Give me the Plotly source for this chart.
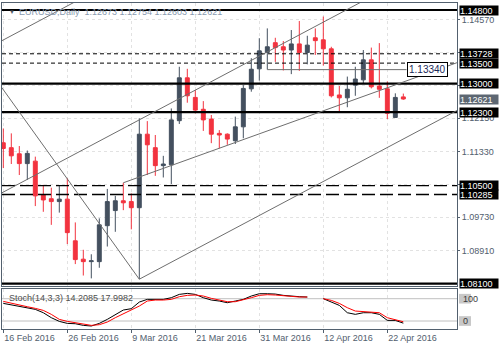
import plotly.graph_objects as go

# ---------------- data ----------------
dates = ["16 Feb 2016", "17 Feb 2016", "18 Feb 2016", "19 Feb 2016", "22 Feb 2016",
         "23 Feb 2016", "24 Feb 2016", "25 Feb 2016", "26 Feb 2016", "29 Feb 2016",
         "1 Mar 2016", "2 Mar 2016", "3 Mar 2016", "4 Mar 2016", "7 Mar 2016",
         "8 Mar 2016", "9 Mar 2016", "10 Mar 2016", "11 Mar 2016", "14 Mar 2016",
         "15 Mar 2016", "16 Mar 2016", "17 Mar 2016", "18 Mar 2016", "21 Mar 2016",
         "22 Mar 2016", "23 Mar 2016", "24 Mar 2016", "25 Mar 2016", "28 Mar 2016",
         "29 Mar 2016", "30 Mar 2016", "31 Mar 2016", "1 Apr 2016", "4 Apr 2016",
         "5 Apr 2016", "6 Apr 2016", "7 Apr 2016", "8 Apr 2016", "11 Apr 2016",
         "12 Apr 2016", "13 Apr 2016", "14 Apr 2016", "15 Apr 2016", "18 Apr 2016",
         "19 Apr 2016", "20 Apr 2016", "21 Apr 2016", "22 Apr 2016", "25 Apr 2016",
         "26 Apr 2016"]

opens = [1.1155, 1.1143, 1.1128, 1.1104, 1.1110, 1.1027, 1.1018, 1.1011, 1.1017, 1.0915,
         1.0870, 1.0864, 1.0864, 1.0952, 1.0989, 1.1013, 1.1011, 1.0996, 1.1176, 1.1143,
         1.1099, 1.1101, 1.1209, 1.1314, 1.1266, 1.1237, 1.1213, 1.1178, 1.1176, 1.1160,
         1.1194, 1.1287, 1.1336, 1.1376, 1.1400, 1.1390, 1.1382, 1.1397, 1.1376, 1.1412,
         1.1407, 1.1385, 1.1272, 1.1265, 1.1296, 1.1309, 1.1358, 1.1294, 1.1287, 1.1217,
         1.12673]
highs = [1.1190, 1.1178, 1.1147, 1.1136, 1.1121, 1.1052, 1.1045, 1.1049, 1.1068, 1.0960,
         1.0893, 1.0882, 1.0970, 1.1042, 1.1025, 1.1057, 1.1031, 1.1215, 1.1208, 1.1174,
         1.1123, 1.1239, 1.1341, 1.1336, 1.1284, 1.1257, 1.1223, 1.1186, 1.1178, 1.1219,
         1.1296, 1.1362, 1.1411, 1.1435, 1.1412, 1.1404, 1.1431, 1.1453, 1.1417, 1.1435,
         1.1464, 1.1390, 1.1294, 1.1317, 1.1341, 1.1382, 1.1388, 1.1399, 1.1305, 1.1276,
         1.12754]
lows = [1.1093, 1.1103, 1.1076, 1.1064, 1.1000, 1.0986, 1.0954, 1.0984, 1.0907, 1.0858,
        1.0830, 1.0823, 1.0849, 1.0901, 1.0937, 1.0990, 1.0943, 1.0821, 1.1076, 1.1074,
        1.1070, 1.1054, 1.1201, 1.1253, 1.1227, 1.1184, 1.1154, 1.1141, 1.1150, 1.1152,
        1.1166, 1.1280, 1.1307, 1.1334, 1.1353, 1.1332, 1.1323, 1.1331, 1.1347, 1.1370,
        1.1344, 1.1266, 1.1231, 1.1242, 1.1270, 1.1301, 1.1288, 1.1265, 1.1213, 1.1217,
        1.12603]
closes = [1.1141, 1.1123, 1.1104, 1.1129, 1.1025, 1.1015, 1.1011, 1.1017, 1.0935, 1.0869,
          1.0864, 1.0866, 1.0954, 1.1011, 1.1013, 1.1008, 1.0996, 1.1176, 1.1150, 1.1099,
          1.1103, 1.1211, 1.1314, 1.1270, 1.1235, 1.1211, 1.1176, 1.1174, 1.1164, 1.1194,
          1.1288, 1.1335, 1.1380, 1.1390, 1.1388, 1.1382, 1.1397, 1.1376, 1.1394, 1.1405,
          1.1385, 1.1270, 1.1265, 1.1286, 1.1311, 1.1358, 1.1292, 1.1286, 1.1227, 1.1266,
          1.12621]

stoch_main = [67.4, 63.8, 60.2, 56.7, 51.3, 42.3, 28.9, 19.0, 13.6, 12.7,
              8.3, 6.5, 13.6, 24.4, 37.9, 49.5, 53.1, 71.0, 78.2, 78.2,
              78.2, 82.7, 91.6, 94.3, 91.6, 82.7, 76.4, 73.7, 69.2, 73.7,
              78.2, 87.2, 93.4, 93.4, 92.5, 89.0, 86.3, 85.4, 84.5, None,
              80.0, 71.9, 62.0, 42.3, 37.9, 42.3, 42.3, 37.9, 21.7, 21.7,
              14.2085]
stoch_signal = [72.8, 67.4, 62.0, 58.4, 54.0, 48.6, 37.9, 24.4, 19.0, 15.4,
                12.7, 8.3, 10.1, 17.2, 28.9, 39.7, 49.5, 60.2, 73.7, 76.4,
                76.4, 78.2, 85.3, 89.0, 89.9, 87.2, 80.9, 75.5, 71.9, 71.9,
                76.4, 82.7, 89.0, 90.8, 89.9, 89.0, 86.3, 84.5, 84.5, None,
                80.0, 75.5, 67.4, 55.8, 46.8, 45.0, 44.1, 42.3, 28.9, 24.4,
                17.9982]
stoch_levels = [80, 20]
stoch_scale_labels = ["100", "0"]

price_ticks = [1.1457, 1.1376, 1.1295, 1.1215, 1.1133, 1.1053, 1.0973, 1.0891]
hidden_ticks = [1.1376, 1.1295, 1.1053]   # covered by level labels in the reference
date_tick_idx = [0, 8, 16, 24, 32, 40, 48]

# horizontal levels: (price, style)
h_levels = [(1.14800, "solid"), (1.13728, "short"), (1.13500, "short"), (1.13000, "solid"),
            (1.12300, "solid"), (1.10500, "long"), (1.10285, "long"), (1.08100, "solid")]
current_price = 1.12621
marked_level = 1.13340
marked_from, marked_to = 33, 50.4

# trend lines: ((bar index, price), (bar index, price))
trend_lines = [((-0.41, 1.14024), (12.0, 1.15316)),
               ((-0.41, 1.10300), (46.0, 1.15127)),
               ((-0.41, 1.12960), (17.0, 1.08210)),
               ((17.0, 1.08210), (57.5, 1.12422)),
               ((15.0, 1.10570), (57.5, 1.13566))]

title_text = "EURUSD,Daily  1.12673 1.12754 1.12603 1.12621"
stoch_text = "Stoch(14,3,3) 14.2085 17.9982"

# ---------------- figure ----------------
FONT = "Liberation Sans"
BULL = "#44505f"
BEAR = "#f2333f"
AXC = "#52606e"
GRID = "#e2e2e2"

x_idx = list(range(len(dates)))

fig = go.Figure()
fig.add_trace(go.Candlestick(
    x=x_idx, open=opens, high=highs, low=lows, close=closes,
    increasing=dict(line=dict(color=BULL, width=1), fillcolor=BULL),
    decreasing=dict(line=dict(color=BEAR, width=1), fillcolor=BEAR),
    whiskerwidth=0, showlegend=False, xaxis="x", yaxis="y"))

fig.add_trace(go.Scatter(x=x_idx, y=stoch_main, mode="lines", line=dict(color="#000000", width=1),
                         connectgaps=False, showlegend=False, xaxis="x2", yaxis="y2"))
fig.add_trace(go.Scatter(x=x_idx, y=stoch_signal, mode="lines", line=dict(color="#ff0000", width=1),
                         connectgaps=False, showlegend=False, xaxis="x2", yaxis="y2"))

shapes = []
annotations = []
style_map = {"solid": dict(width=2.2, dash="solid"),
             "short": dict(width=1, dash="4px,3px"),
             "long": dict(width=1.4, dash="13px,5px")}
for lvl, st in h_levels:
    shapes.append(dict(type="line", xref="x domain", yref="y", x0=0, x1=1, y0=lvl, y1=lvl,
                       line=dict(color="#000000", **style_map[st]), layer="above"))
    annotations.append(dict(xref="paper", yref="y", x=1.0044, y=lvl, xanchor="left", yanchor="middle",
                            text="%.5f" % lvl, showarrow=False, bgcolor="#000000",
                            font=dict(family=FONT, size=9, color="#ffffff"),
                            width=38, height=9, align="left", borderpad=0))

annotations.append(dict(xref="paper", yref="y", x=1.0044, y=current_price, xanchor="left", yanchor="middle",
                        text="%.5f" % current_price, showarrow=False, bgcolor="#5d6772",
                        font=dict(family=FONT, size=9, color="#ffffff"),
                        width=38, height=9, align="left", borderpad=0))

for (xa, ya), (xb, yb) in trend_lines:
    shapes.append(dict(type="line", xref="x", yref="y", x0=xa, y0=ya, x1=xb, y1=yb,
                       line=dict(color="#6e6e6e", width=1), layer="above"))

shapes.append(dict(type="line", xref="x", yref="y", x0=marked_from, x1=marked_to,
                   y0=marked_level, y1=marked_level, line=dict(color="#6e6e6e", width=1), layer="above"))
annotations.append(dict(xref="x", yref="y", x=marked_to, y=marked_level, xanchor="left", yanchor="middle",
                        text="%.5f" % marked_level, showarrow=False, bgcolor="#ffffff",
                        bordercolor="#000000", borderwidth=1, borderpad=1,
                        font=dict(family=FONT, size=10, color="#1a2a5a")))

for lv, lab in zip(stoch_levels, stoch_scale_labels):
    shapes.append(dict(type="line", xref="x2 domain", yref="y2", x0=0, x1=1, y0=lv, y1=lv,
                       line=dict(color="#c0c0c0", width=1), layer="below"))
    shapes.append(dict(type="rect", xref="paper", yref="y2", x0=1.0044, x1=1.0308,
                       y0=lv - 13, y1=lv + 13, fillcolor="#c8c8c8", line=dict(width=0)))
    annotations.append(dict(xref="paper", yref="y2", x=1.0095, y=lv, xanchor="left", yanchor="middle",
                            text=lab, showarrow=False, font=dict(family=FONT, size=9, color="#3a3a3a")))

annotations.append(dict(xref="x2 domain", yref="y2 domain", x=0.011, y=0.78, xanchor="left", yanchor="middle",
                        text=stoch_text, showarrow=False, font=dict(family=FONT, size=9, color="#505050")))
annotations.append(dict(xref="x domain", yref="y domain", x=0.011, y=0.968, xanchor="left", yanchor="middle",
                        text="\u25BC", showarrow=False, font=dict(family=FONT, size=6, color="#505a66")))
annotations.append(dict(xref="x domain", yref="y domain", x=0.034, y=0.968, xanchor="left", yanchor="middle",
                        text=title_text, showarrow=False, font=dict(family=FONT, size=9, color="#8a9bb0")))

main_bottom = 43 / 326
stoch_top = 40 / 326

fig.update_layout(
    width=500, height=350,
    margin=dict(l=2, r=43, t=3, b=21),
    paper_bgcolor="#ffffff", plot_bgcolor="#ffffff",
    font=dict(family=FONT, size=9, color=AXC),
    showlegend=False,
    shapes=shapes, annotations=annotations,
    xaxis=dict(domain=[0, 1], anchor="y", range=[-0.1625, 56.71], showticklabels=False,
               tickvals=date_tick_idx, ticks="", showgrid=True, gridcolor=GRID, griddash="3px,3px",
               showline=True, mirror=True, linecolor=AXC, linewidth=1, zeroline=False,
               rangeslider=dict(visible=False), fixedrange=True),
    xaxis2=dict(domain=[0, 1], anchor="y2", matches="x", range=[-0.1625, 56.71],
                tickvals=date_tick_idx, ticktext=[dates[i] for i in date_tick_idx],
                ticklabelposition="outside right", ticks="outside", ticklen=3, tickcolor=AXC,
                showgrid=True, gridcolor=GRID, griddash="3px,3px",
                showline=True, mirror=True, linecolor=AXC, linewidth=1, zeroline=False,
                tickfont=dict(family=FONT, size=9, color=AXC)),
    yaxis=dict(domain=[main_bottom, 1], anchor="x", side="right", range=[1.080435, 1.149714],
               tickvals=price_ticks,
               ticktext=["" if v in hidden_ticks else "%.5f" % v for v in price_ticks],
               ticks="outside", ticklen=2, tickcolor=AXC,
               showgrid=True, gridcolor=GRID, griddash="3px,3px",
               showline=True, mirror=True, linecolor=AXC, linewidth=1, zeroline=False,
               tickfont=dict(family=FONT, size=9, color=AXC)),
    yaxis2=dict(domain=[0, stoch_top], anchor="x2", side="right", range=[-1.5, 106.1],
                showticklabels=False, ticks="", showgrid=False,
                showline=True, mirror=True, linecolor=AXC, linewidth=1, zeroline=False),
)

fig.write_html("out.html")
